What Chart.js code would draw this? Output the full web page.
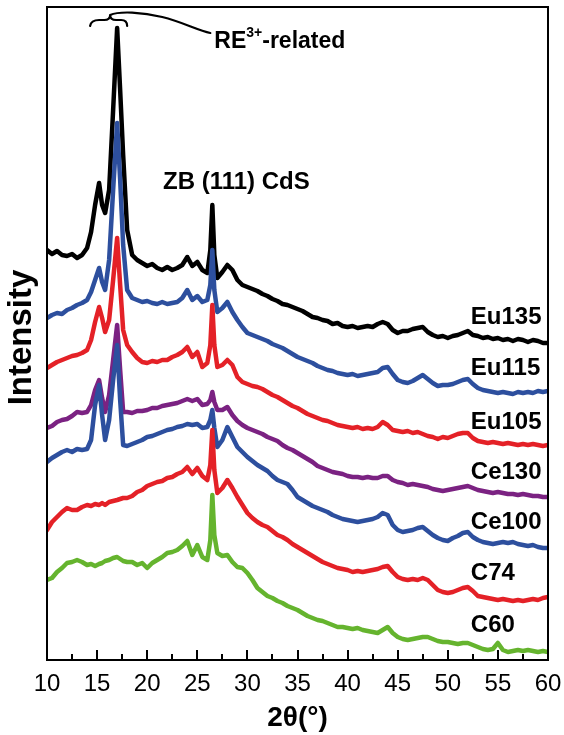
<!DOCTYPE html>
<html>
<head>
<meta charset="utf-8">
<script src="https://cdn.jsdelivr.net/npm/chart.js@4/dist/chart.umd.min.js"></script>
<style>
html,body{margin:0;padding:0;background:#fff;}
#wrap{width:564px;height:735px;}
</style>
</head>
<body>
<div id="wrap"><canvas id="c" width="564" height="735"></canvas></div>
<script>
// 2θ positions (degrees)
const twoTheta = [10,10.5,11,11.5,12,12.5,13,13.5,14,14.4,14.8,15.2,15.5,15.8,16.2,16.6,17.0,17.3,17.6,18.0,
  18.5,19,19.5,20,20.5,21,21.5,22,22.5,23,23.5,24,24.5,25,25.5,26,26.3,26.5,26.7,27,
  27.5,28,28.5,29,29.5,30,
  30.5,31,31.5,32,32.5,33,33.5,34,34.5,35,35.5,36,36.5,37,37.5,38,38.5,39,39.5,40,
  40.5,41,41.5,42,42.5,43,43.5,44,44.5,45,45.5,46,46.5,47,47.5,48,48.5,49,49.5,50,
  50.5,51,51.5,52,52.5,53,53.5,54,54.5,55,55.5,56,56.5,57,57.5,58,58.5,59,59.5,60];

// Offset-stacked intensities (a.u.)
const eu135 = [410,406,409,405,404,406,402,405,412,428,455,477,455,447,470,550,632,570,505,430,
  405,400,397,394,396,392,390,393,390,392,395,403,394,398,390,387,410,455,405,382,
  388,395,390,380,375,373,
  371,369,366,364,361,359,356,355,353,351,349,346,343,342,340,339,336,337,334,333,
  334,332,333,334,333,336,338,336,330,327,329,329,331,332,333,328,325,323,324,322,
  324,325,327,329,325,324,322,323,321,322,320,321,319,321,320,318,320,319,317,317];
const eu115 = [342,345,347,346,350,352,355,357,360,368,380,392,378,370,400,470,537,480,415,370,
  362,360,358,359,357,356,358,356,357,358,362,370,360,364,358,360,375,410,370,348,
  352,358,348,340,333,327,
  325,323,321,319,316,314,312,309,306,303,301,299,297,294,292,290,289,287,286,285,
  286,284,285,286,287,288,292,293,286,280,278,277,279,282,285,281,277,274,275,275,
  276,278,280,281,276,272,270,269,268,267,268,267,266,268,267,268,267,269,268,269];
const eu105 = [292,295,298,300,302,304,305,307,310,320,338,353,342,328,340,380,422,375,330,315,
  308,302,298,297,299,298,300,300,303,305,308,313,303,308,293,297,315,355,315,293,
  295,300,295,283,278,276,
  274,273,271,268,265,263,260,257,254,252,249,246,244,242,240,239,237,235,234,233,
  232,233,231,232,231,233,238,235,230,229,228,229,227,228,226,224,223,221,223,222,
  224,226,227,227,222,219,218,217,218,217,216,217,216,215,216,215,216,215,214,215];
const ce130 = [232,234,238,240,241,244,248,247,248,255,270,280,262,248,265,300,335,290,248,248,
  247,249,249,250,252,252,254,255,256,257,259,261,259,261,255,256,260,268,258,250,
  250,253,245,239,235,232,
  230,228,226,223,221,219,215,212,210,207,204,201,198,194,192,190,188,187,186,184,
  183,183,182,183,182,182,184,184,180,178,177,175,176,175,174,173,171,170,169,170,
  171,172,173,174,172,170,169,168,167,168,167,166,166,165,166,165,164,164,163,163];
const ce100 = [198,202,205,208,210,208,211,210,211,220,255,275,245,220,240,280,315,260,215,214,
  216,218,220,223,224,226,228,230,231,233,234,236,235,236,232,233,240,250,232,213,
  220,233,223,213,208,203,
  199,195,192,189,184,180,178,176,170,163,160,157,154,152,150,148,145,143,141,140,
  139,138,139,140,141,143,147,145,135,130,128,129,130,132,133,129,125,122,120,119,
  122,124,127,128,123,120,118,117,116,117,118,117,118,116,115,114,115,113,112,112];
const c74 = [130,138,143,148,152,150,150,153,155,154,156,155,157,155,158,159,160,161,162,162,
  164,168,170,174,176,178,179,182,183,186,188,193,186,192,184,180,195,230,190,167,
  172,180,172,163,155,147,
  142,138,135,133,129,125,123,120,116,113,110,107,104,101,98,96,94,92,91,90,
  88,89,88,89,90,91,93,94,88,83,81,80,81,80,82,80,75,70,68,67,
  68,70,72,73,69,64,63,62,61,60,61,60,59,60,59,60,61,60,62,63];
const c60 = [80,82,88,92,97,98,100,98,95,96,94,96,97,99,100,102,103,101,99,98,
  98,95,97,92,97,100,103,107,108,110,114,119,105,115,103,100,120,165,125,107,
  104,105,98,93,92,87,
  80,72,68,64,62,59,57,54,52,50,47,44,42,40,39,37,35,33,33,32,
  31,32,30,29,28,27,30,33,27,23,21,20,21,22,23,23,21,19,18,18,
  17,16,17,17,15,13,11,10,11,17,10,8,9,10,9,10,9,8,9,8];

const sampleNames = ['Eu135','Eu115','Eu105','Ce130','Ce100','C74','C60'];
const xTicks = [10,15,20,25,30,35,40,45,50,55,60];
const xMinorTicks = [12.5,17.5,22.5,27.5,32.5,37.5,42.5,47.5,52.5,57.5];

const seriesList = [eu135, eu115, eu105, ce130, ce100, c74, c60];
const colors = ['#000000','#2d4f9e','#e42127','#7b2282','#2d4f9e','#e42127','#65b42e'];
// label anchor positions in data units (left x, centre y)
const labelPos = [[52.3,343],[52.3,292],[52.3,238],[52.3,188],[52.3,138],[52.3,87],[52.3,35]];

const FONT = '"Liberation Sans", Arial, Helvetica, sans-serif';

const datasets = seriesList.map((arr, i) => ({
  label: sampleNames[i],
  data: arr.map((v, k) => ({x: twoTheta[k], y: v})),
  borderColor: colors[i],
  backgroundColor: colors[i],
  borderWidth: 4.5,
  pointRadius: 0,
  tension: 0,
  fill: false,
  order: seriesList.length - 1 - i,
  borderJoinStyle: 'round',
  borderCapStyle: 'round'
}));

const decor = {
  id: 'decor',
  afterDraw(chart) {
    const ctx = chart.ctx;
    const a = chart.chartArea;
    const xs = chart.scales.x, ys = chart.scales.y;
    const X = v => xs.getPixelForValue(v);
    const Y = v => ys.getPixelForValue(v);
    ctx.save();
    // frame
    ctx.strokeStyle = '#000';
    ctx.lineWidth = 2;
    ctx.strokeRect(a.left, a.top, a.right - a.left, a.bottom - a.top);
    // inward ticks
    ctx.lineWidth = 2;
    xTicks.forEach(t => {
      const px = Math.round(X(t));
      ctx.beginPath(); ctx.moveTo(px, a.bottom); ctx.lineTo(px, a.bottom - 10); ctx.stroke();
    });
    xMinorTicks.forEach(t => {
      const px = Math.round(X(t));
      ctx.beginPath(); ctx.moveTo(px, a.bottom); ctx.lineTo(px, a.bottom - 6); ctx.stroke();
    });
    // sample labels
    ctx.fillStyle = '#000';
    ctx.font = 'bold 24px ' + FONT;
    ctx.textAlign = 'left';
    ctx.textBaseline = 'middle';
    sampleNames.forEach((n, i) => {
      ctx.fillText(n, X(labelPos[i][0]), Y(labelPos[i][1]));
    });
    // ZB annotation
    ctx.textAlign = 'center';
    ctx.fillText('ZB (111) CdS', X(28.9), Y(478));
    // RE annotation
    ctx.textAlign = 'left';
    ctx.font = 'bold 23px ' + FONT;
    let rx = X(26.7), ry = Y(618);
    ctx.fillText('RE', rx, ry);
    let w = ctx.measureText('RE').width;
    ctx.font = 'bold 14px ' + FONT;
    ctx.fillText('3+', rx + w, ry - 9);
    let w2 = ctx.measureText('3+').width;
    ctx.font = 'bold 23px ' + FONT;
    ctx.fillText('-related', rx + w + w2, ry);
    // brace
    ctx.lineWidth = 2.2;
    ctx.lineCap = 'round';
    ctx.beginPath();
    ctx.moveTo(X(14.3), Y(634));
    ctx.quadraticCurveTo(X(14.4), Y(640), X(15.2), Y(640));
    ctx.lineTo(X(15.7), Y(640));
    ctx.quadraticCurveTo(X(16.3), Y(640), X(16.3), Y(645));
    ctx.quadraticCurveTo(X(16.3), Y(640), X(16.9), Y(640));
    ctx.lineTo(X(17.4), Y(640));
    ctx.quadraticCurveTo(X(18.0), Y(640), X(18.0), Y(634));
    ctx.stroke();
    // leader curve
    ctx.beginPath();
    ctx.moveTo(X(16.3), Y(645));
    ctx.bezierCurveTo(X(17.2), Y(649), X(19.5), Y(648), X(21.5), Y(643));
    ctx.bezierCurveTo(X(23.5), Y(638), X(25), Y(630), X(26.3), Y(627));
    ctx.stroke();
    // axis titles
    ctx.font = 'bold 28px ' + FONT;
    ctx.textAlign = 'center';
    ctx.textBaseline = 'middle';
    ctx.fillText('2θ(°)', (a.left + a.right) / 2, 718);
    ctx.save();
    ctx.translate(22, (a.top + a.bottom) / 2 + 4);
    ctx.rotate(-Math.PI / 2);
    ctx.font = 'bold 33px ' + FONT;
    ctx.fillText('Intensity', 0, 0);
    ctx.restore();
    ctx.restore();
  }
};

new Chart(document.getElementById('c'), {
  type: 'line',
  data: { datasets },
  options: {
    responsive: false,
    animation: false,
    devicePixelRatio: 1,
    layout: { padding: { left: 47, right: 16, top: 7, bottom: 0 } },
    plugins: { legend: { display: false }, tooltip: { enabled: false } },
    scales: {
      x: {
        type: 'linear',
        min: 10, max: 60,
        grid: { display: false, drawTicks: false },
        border: { display: false },
        afterFit(s) { s.height = 75; s.paddingLeft = 0; s.paddingRight = 0; },
        afterBuildTicks(s) { s.ticks = xTicks.map(v => ({ value: v })); },
        ticks: { color: '#000', font: { size: 24, family: FONT }, padding: 10, maxRotation: 0, autoSkip: false }
      },
      y: {
        type: 'linear',
        min: 0, max: 653,
        display: false
      }
    }
  },
  plugins: [decor]
});
</script>
</body>
</html>
